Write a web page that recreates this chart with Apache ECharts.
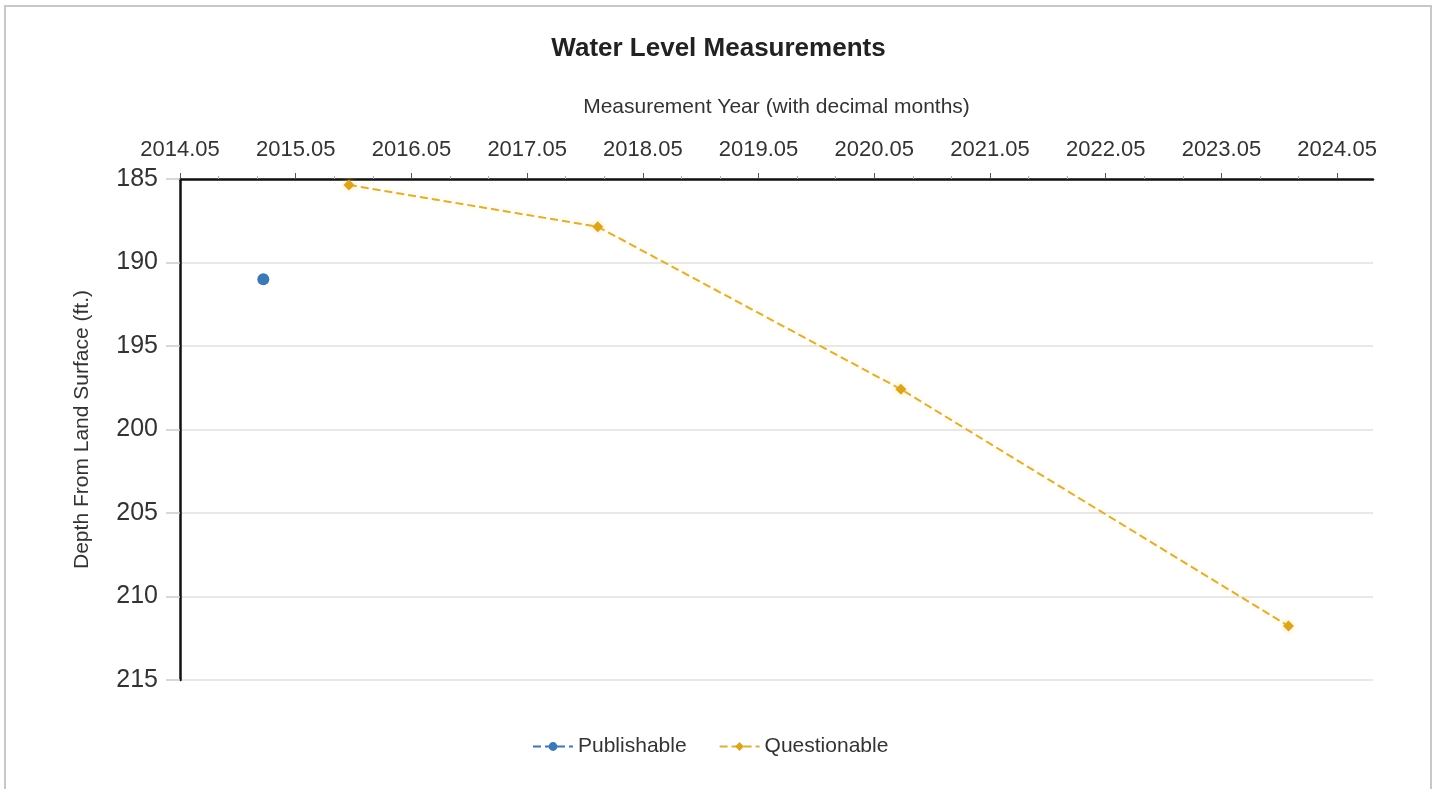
<!DOCTYPE html>
<html>
<head>
<meta charset="utf-8">
<script src="https://cdn.jsdelivr.net/npm/echarts@6/dist/echarts.min.js"></script>
<style>
html,body{margin:0;padding:0;background:#fff;}
#frame{position:absolute;left:4px;top:5px;width:1428px;height:820px;border:2px solid #c8c8c8;box-sizing:border-box;}
#chart{position:absolute;left:0;top:0;width:1437px;height:789px;}
</style>
</head>
<body>
<div id="frame"></div>
<div id="chart"></div>
<script>
// ---- data ----
const xTickLabels = [2014.05, 2015.05, 2016.05, 2017.05, 2018.05, 2019.05, 2020.05, 2021.05, 2022.05, 2023.05, 2024.05];
const yTickLabels = [185, 190, 195, 200, 205, 210, 215];
const publishableYears = [2014.77];
const publishableDepths = [191.0];
const questionableYears = [2015.51, 2017.66, 2020.28, 2023.63];
const questionableDepths = [185.36, 187.86, 197.59, 211.77];

const xMin = 2014.05, xMax = 2024.36;
const minorTicks = [];
xTickLabels.forEach(function (t) {
  [1 / 3, 2 / 3].forEach(function (f) {
    const v = t + f;
    if (v < xMax) minorTicks.push(v);
  });
});

const FONT = '"Liberation Sans", Arial, sans-serif';
const chart = echarts.init(document.getElementById('chart'), null, {renderer: 'canvas'});
chart.setOption({
  backgroundColor: 'transparent',
  animation: false,
  textStyle: {fontFamily: FONT},
  title: {
    text: 'Water Level Measurements',
    left: 'center',
    top: 31,
    textStyle: {fontSize: 26, fontWeight: 'bold', color: '#222', fontFamily: FONT}
  },
  legend: {
    left: 527,
    top: 731,
    itemWidth: 40,
    itemHeight: 11,
    itemGap: 32,
    textStyle: {fontSize: 21, color: '#333', fontFamily: FONT},
    data: ['Publishable', 'Questionable']
  },
  grid: {left: 180, right: 64, top: 179, bottom: 109, containLabel: false},
  xAxis: [{
    type: 'value',
    position: 'top',
    min: xMin,
    max: xMax,
    name: 'Measurement Year (with decimal months)',
    nameLocation: 'middle',
    nameGap: 61,
    nameTextStyle: {fontSize: 21, color: '#333', fontFamily: FONT},
    axisLine: {show: true, lineStyle: {color: '#111', width: 2.5}},
    axisTick: {show: true, customValues: xTickLabels, length: 6, lineStyle: {color: '#555'}},
    axisLabel: {customValues: xTickLabels, formatter: function (v) { return v.toFixed(2); }, fontSize: 22, color: '#333', margin: 18, fontFamily: FONT},
    splitLine: {show: false}
  }, {
    type: 'value',
    position: 'top',
    offset: 0,
    min: xMin,
    max: xMax,
    axisLine: {show: false},
    axisTick: {show: true, customValues: minorTicks, length: 3, lineStyle: {color: '#aaa'}},
    axisLabel: {show: false},
    splitLine: {show: false}
  }],
  yAxis: {
    type: 'value',
    inverse: true,
    min: yTickLabels[0],
    max: yTickLabels[yTickLabels.length - 1],
    interval: 5,
    name: 'Depth From Land Surface (ft.)',
    nameLocation: 'middle',
    nameGap: 87,
    nameTextStyle: {fontSize: 21, color: '#333', fontFamily: FONT},
    axisLine: {show: true, lineStyle: {color: '#111', width: 2.5}},
    axisTick: {show: true, length: 14, lineStyle: {color: '#ccc', width: 1.5}},
    axisLabel: {fontSize: 25, color: '#333', margin: 22, fontFamily: FONT},
    splitLine: {show: true, lineStyle: {color: '#e0e0e0', width: 1.5}}
  },
  series: [{
    name: 'Publishable',
    type: 'line',
    xAxisIndex: 0,
    data: publishableYears.map(function (x, i) { return [x, publishableDepths[i]]; }),
    symbol: 'circle',
    symbolSize: 12,
    showSymbol: true,
    itemStyle: {color: '#3c78b4'},
    lineStyle: {type: 'dashed', width: 2, color: '#3c78b4'}
  }, {
    name: 'Questionable',
    type: 'line',
    xAxisIndex: 0,
    data: questionableYears.map(function (x, i) { return [x, questionableDepths[i]]; }),
    symbol: 'diamond',
    symbolSize: 11,
    itemStyle: {color: '#dba520', shadowColor: 'rgba(255,215,90,0.6)', shadowBlur: 6},
    lineStyle: {type: 'dashed', width: 2, color: '#d9b040', shadowColor: 'rgba(255,225,120,0.6)', shadowBlur: 5}
  }]
});
</script>
</body>
</html>
